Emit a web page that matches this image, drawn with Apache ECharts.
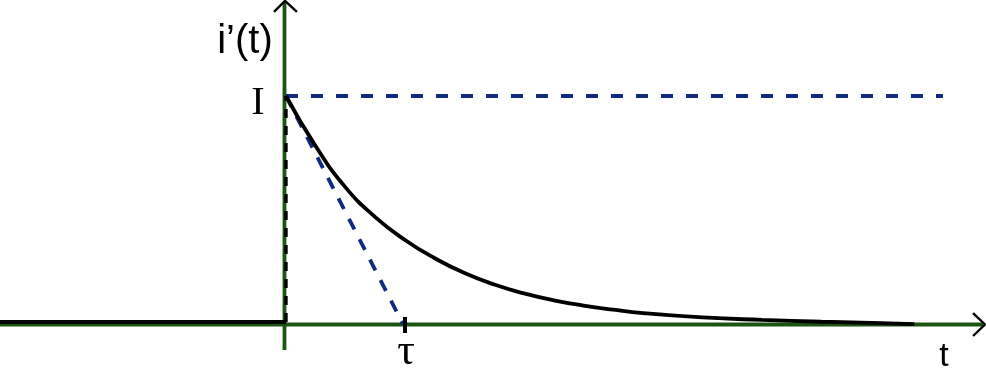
<!DOCTYPE html>
<html>
<head>
<meta charset="utf-8">
<style>
html,body{margin:0;padding:0;background:#fff;}
#c{width:986px;height:374px;}
</style>
<script src="https://cdn.jsdelivr.net/npm/echarts@6/dist/echarts.min.js"></script>
</head>
<body>
<div id="c"></div>
<script>
// Time in units of tau, current in units of I
var curveT = [0, 0.25, 0.5, 0.75, 1.0, 1.25, 1.5, 1.75, 2.0, 2.25, 2.5, 2.75, 3.0, 3.5, 4.0, 4.5, 5.0, 5.28];
var curveI = [1, 0.78, 0.60, 0.47, 0.37, 0.29, 0.225, 0.175, 0.136, 0.106, 0.083, 0.065, 0.050, 0.031, 0.020, 0.012, 0.006, 0.002];
var preT = [-2.41, 0];          // zero current before switching
var levelT = [0, 5.52];         // dashed level of I
var tangentT = [0, 0.985];      // tangent at t=0 hits axis at tau
var tauValue = 1;
var tickLabels = {level: 'I', tau: '\u03c4', xName: 't', yName: 'i\u2019(t)'};

var X_MIN = -2.403, X_MAX = 5.882, Y_MIN = -0.2166, Y_MAX = 1.4201;
var GREEN = '#1b5512', BLUE = '#0f2a80', BLACK = '#000';

function seg(a, b) { return [a, b]; }
var curve = curveT.map(function (t, i) { return [t, curveI[i]]; });

var chart = echarts.init(document.getElementById('c'));
var base = {type: 'line', symbol: 'none', silent: true, animation: false};
function line(data, color, width, type, z, extra) {
  var s = Object.assign({}, base, {data: data, z: z || 2,
    lineStyle: {color: color, width: width, type: type || 'solid'}});
  return Object.assign(s, extra || {});
}

chart.setOption({
  animation: false,
  grid: {left: 0, right: 0, top: 0, bottom: 0},
  xAxis: {type: 'value', min: X_MIN, max: X_MAX, show: false},
  yAxis: {type: 'value', min: Y_MIN, max: Y_MAX, show: false},
  series: [
    // axes
    line(seg([X_MIN, 0], [5.857, 0]), GREEN, 3.8, 'solid', 1),
    line(seg([-0.0126, -0.112], [-0.0126, 1.407]), GREEN, 3.8, 'solid', 1),
    // arrowheads
    line([[-0.101, 1.368], [-0.008, 1.416], [0.092, 1.368]], BLACK, 2.4, 'solid', 3),
    line([[5.773, 0.0503], [5.874, 0], [5.773, -0.0503]], BLACK, 2.4, 'solid', 3),
    // zero current before t=0
    line(preT.map(function (t) { return [t, 0.011]; }), BLACK, 3.8, 'solid', 3),
    // vertical jump (dashed)
    line(seg([0, 0.011], [0, 1]), BLACK, 3.4, [9, 8], 3),
    // level I dashed
    line(levelT.map(function (t) { return [t, 1]; }), BLUE, 3.8, [12, 13], 2),
    // tangent dashed
    line(seg([tangentT[0], 1], [tangentT[1], 0]), BLUE, 3.8, [12, 11], 2),
    // decaying curve
    line(curve, BLACK, 3.8, 'solid', 4, {smooth: 0.5}),
    // tau tick
    line(seg([tauValue, -0.037], [tauValue, 0.033]), BLACK, 4, 'solid', 5)
  ],
  graphic: [
    {type: 'text', x: 245, y: 42, style: {text: tickLabels.yName, font: '40px "Liberation Sans", Arial, sans-serif', fill: '#000', align: 'center', verticalAlign: 'middle'}},
    {type: 'text', x: 258, y: 103, style: {text: tickLabels.level, font: '40px "Liberation Serif", "Times New Roman", serif', fill: '#000', align: 'center', verticalAlign: 'middle'}},
    {type: 'text', x: 406, y: 352, style: {text: tickLabels.tau, font: '44px "Liberation Serif", "Times New Roman", serif', fill: '#000', align: 'center', verticalAlign: 'middle'}},
    {type: 'text', x: 944, y: 357, style: {text: tickLabels.xName, font: '34px "Liberation Sans", Arial, sans-serif', fill: '#000', align: 'center', verticalAlign: 'middle'}}
  ]
});
</script>
</body>
</html>
